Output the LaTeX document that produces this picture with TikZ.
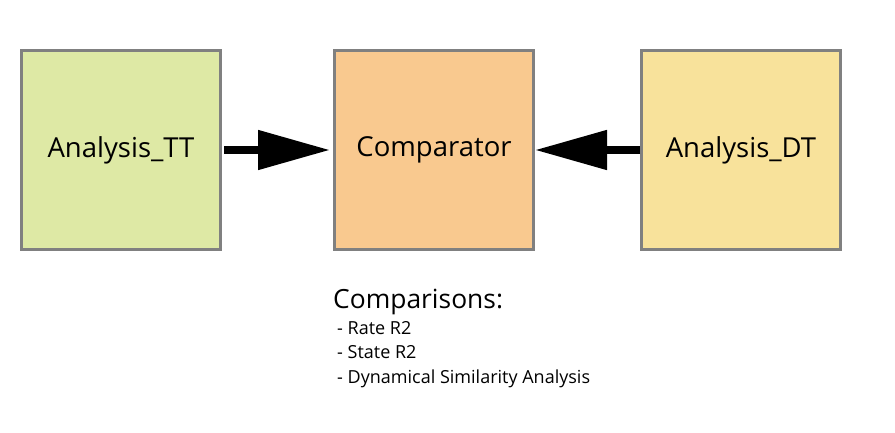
\documentclass[tikz,border=0pt]{standalone}
\usepackage{fontspec}
\setmainfont{Open Sans}
\usepackage{tikz}
\usetikzlibrary{arrows.meta,positioning}

\definecolor{ttgreen}{RGB}{222,233,165}
\definecolor{comporange}{RGB}{249,201,143}
\definecolor{dtyellow}{RGB}{248,226,155}
\definecolor{boxgray}{RGB}{128,128,128}

\tikzset{
  block/.style = {draw=boxgray, line width=3pt, minimum size=199pt, inner sep=0pt, font=\fontsize{27.5}{32}\selectfont},
  bigarrow/.style = {line width=8pt, -{Triangle[length=72pt,width=38pt]}}
}

\begin{document}
\begin{tikzpicture}[x=1pt, y=-1pt]
\useasboundingbox (0,0) rectangle (895,433);
\pgfmathsetmacro{\gap}{111} % space between boxes
\node[block, fill=ttgreen] (tt) at (121,150) {Analysis\_TT};
\node[block, fill=comporange, right=\gap pt of tt] (comp) {Comparator};
\node[block, fill=dtyellow, right=105pt of comp] (dt) {Analysis\_DT};
\draw[bigarrow, shorten <=2pt, shorten >=3pt] (tt) -- (comp);
\draw[bigarrow] (dt) -- (comp);
\node[anchor=base west, inner sep=0pt, font=\fontsize{26.4}{30}\selectfont] (cmp) at (333,308) {Comparisons:};
\node[anchor=north west, inner sep=0pt, align=left, font=\fontsize{18}{24.7}\selectfont] (list) at (337,321) {- Rate R2\\- State R2\\- Dynamical Similarity Analysis};
\end{tikzpicture}
\end{document}
